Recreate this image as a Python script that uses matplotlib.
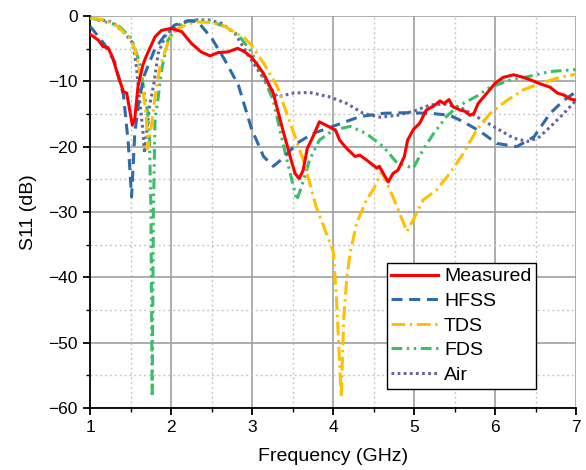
import numpy as np
import matplotlib
matplotlib.use('Agg')
import matplotlib.pyplot as plt
from matplotlib.ticker import MultipleLocator

plt.rcParams['font.family'] = ['Liberation Sans', 'DejaVu Sans']

# Measured
f_meas = [1.0, 1.1, 1.16, 1.22, 1.28, 1.34, 1.41, 1.45, 1.49, 1.52, 1.55, 1.59, 1.65, 1.69,
          1.80, 1.88, 2.0, 2.13, 2.25, 2.37, 2.48, 2.58, 2.70, 2.82, 2.91, 3.0, 3.14, 3.26,
          3.38, 3.48, 3.53, 3.58, 3.63, 3.68, 3.75, 3.83, 3.94, 4.03, 4.08, 4.17, 4.27, 4.33,
          4.44, 4.54, 4.57, 4.62, 4.68, 4.74, 4.80, 4.88, 4.92, 4.99, 5.07, 5.15, 5.24, 5.32,
          5.37, 5.43, 5.48, 5.57, 5.63, 5.69, 5.74, 5.79, 5.90, 6.0, 6.10, 6.23, 6.35, 6.44,
          6.56, 6.68, 6.77, 6.85, 6.93, 7.0]
s_meas = [-2.8, -3.7, -4.7, -4.85, -6.5, -9, -11.6, -11.8, -14.6, -16.7, -15.7, -10.8, -7.5, -6.2,
          -3.2, -2.2, -1.9, -2.4, -4.2, -5.5, -6.1, -5.6, -5.5, -4.95, -5.5, -6.4, -8.8, -11.8,
          -17.5, -22, -24.1, -24.9, -23.6, -20.3, -18.5, -16.2, -16.9, -17.5, -19, -20.3, -21.5, -21.3,
          -22.3, -23.3, -23, -24.1, -25.4, -24.1, -23.6, -21.5, -19, -17.4, -16.4, -14.4, -13.8, -13,
          -13.4, -12.8, -13.9, -14.4, -14.6, -15.2, -14.9, -13.4, -11.8, -10.3, -9.4, -9.0, -9.4, -9.8,
          -10.4, -10.9, -11.8, -12.1, -12.7, -12.9]

# HFSS
f_hfss = [1.0, 1.18, 1.30, 1.41, 1.47, 1.51, 1.55, 1.60, 1.67, 1.80, 1.92, 2.04, 2.21, 2.33,
          2.50, 2.66, 2.83, 2.99, 3.14, 3.26, 3.38, 3.55, 3.75, 4.04, 4.33, 4.62, 4.91, 5.20,
          5.44, 5.61, 5.82, 6.02, 6.27, 6.48, 6.68, 6.85, 7.0]
s_hfss = [-1.6, -4.4, -7, -12.1, -19.5, -27.7, -18, -13, -9, -5, -3, -1.4, -0.7, -0.9,
          -3.4, -6.7, -10.6, -17.2, -21.5, -23, -21.8, -19.5, -18, -16.7, -15.4, -14.9, -14.8, -14.9,
          -15.2, -16.2, -17.7, -19.5, -20, -18.5, -14.9, -12.9, -11.6]

# TDS
f_tds = [1.0, 1.18, 1.34, 1.49, 1.55, 1.59, 1.65, 1.69, 1.71, 1.76, 1.80, 1.86, 1.98, 2.08,
         2.29, 2.50, 2.66, 2.91, 3.0, 3.14, 3.31, 3.47, 3.63, 3.79, 4.0, 4.04, 4.07, 4.10,
         4.13, 4.17, 4.21, 4.29, 4.41, 4.50, 4.60, 4.74, 4.87, 4.91, 4.99, 5.11, 5.28, 5.44,
         5.61, 5.77, 5.94, 6.15, 6.35, 6.56, 6.80, 7.0]
s_tds = [-0.35, -0.6, -1.6, -3.4, -5.2, -7.2, -11.3, -14.9, -20.3, -16.4, -12.4, -7.8, -3.4, -1.9,
         -0.9, -1, -1.6, -3.4, -4.6, -7.2, -10.8, -16.4, -22, -29.2, -36, -43, -50.6, -58.3,
         -46.5, -39.9, -36.3, -31.7, -28.2, -26.5, -23.8, -27.7, -31.7, -33, -31.2, -28.2, -26.6, -24.1,
         -21, -17.5, -14.9, -12.9, -11.3, -10.3, -9.4, -8.9]

# FDS
f_fds = [1.0, 1.34, 1.51, 1.61, 1.65, 1.71, 1.73, 1.75, 1.765, 1.78, 1.80, 1.84, 1.88, 1.96,
         2.03, 2.17, 2.33, 2.50, 2.66, 2.83, 2.99, 3.14, 3.26, 3.38, 3.51, 3.55, 3.61, 3.71,
         3.83, 4.0, 4.21, 4.41, 4.62, 4.79, 4.99, 5.11, 5.24, 5.40, 5.53, 5.77, 5.94, 6.19,
         6.40, 6.68, 7.0]
s_fds = [-0.3, -1.4, -3.4, -7.2, -10.3, -14.9, -18, -30, -58.3, -30, -15.9, -12.4, -8.3, -3.7,
         -2.4, -0.9, -0.6, -0.9, -1.6, -2.9, -5.5, -9.5, -12.9, -19.5, -26.1, -28.2, -26.1, -22,
         -19, -17.5, -16.9, -18, -20, -22.5, -23.3, -20.5, -18, -15.4, -13.9, -12.3, -10.9, -9.8,
         -9.3, -8.5, -8.2]

# Air
f_air = [1.0, 1.27, 1.43, 1.53, 1.57, 1.61, 1.65, 1.67, 1.73, 1.78, 1.84, 1.94, 2.13, 2.29,
         2.46, 2.62, 2.79, 2.95, 3.11, 3.31, 3.51, 3.71, 3.96, 4.17, 4.37, 4.58, 4.79, 4.99,
         5.20, 5.37, 5.57, 5.77, 6.02, 6.23, 6.40, 6.53, 6.68, 6.85, 7.0]
s_air = [-0.3, -0.9, -2.7, -4.2, -7.8, -12.9, -17.5, -21, -13.9, -10.8, -5.7, -2.7, -1.1, -0.6,
         -0.6, -1.1, -2.7, -6, -9, -12.4, -11.8, -11.7, -12.4, -13.4, -14.9, -15.5, -15.2, -14.6,
         -13.6, -13.5, -14, -15.4, -17.2, -18.7, -19.2, -18.7, -17, -14.9, -12.9]

fig = plt.figure(figsize=(5.86, 4.70), dpi=100)
ax = fig.add_axes([0.154, 0.132, 0.829, 0.834])

lw = 2.2
ax.plot(f_meas, s_meas, color='#FF0000', lw=lw, label='Measured', zorder=6)
ax.plot(f_hfss, s_hfss, color='#2E6BA8', lw=lw, dashes=(3.6, 2.2), label='HFSS', zorder=5)
ax.plot(f_tds, s_tds, color='#FFC000', lw=lw, dashes=(4.5, 1.5, 0.8, 1.5), label='TDS', zorder=4)
ax.plot(f_fds, s_fds, color='#3CBD6A', lw=lw, dashes=(3.5, 1.5, 0.8, 1.5, 0.8, 1.5), label='FDS', zorder=3)
ax.plot(f_air, s_air, color='#6464A0', lw=lw, dashes=(0.9, 1.1), label='Air', zorder=2)

ax.set_xlim(1, 7)
ax.set_ylim(-60, 0)
ax.xaxis.set_major_locator(MultipleLocator(1))
ax.xaxis.set_minor_locator(MultipleLocator(0.5))
ax.yaxis.set_major_locator(MultipleLocator(10))
ax.yaxis.set_minor_locator(MultipleLocator(5))

ax.grid(which='major', color='#A0A0A0', lw=1.2, ls='-')
ax.grid(which='minor', color='#C8C8C8', lw=1.0, ls=(0, (1.5, 2)))
ax.set_axisbelow(True)

for side in ['top', 'right']:
    ax.spines[side].set_visible(False)
for side in ['left', 'bottom']:
    ax.spines[side].set_linewidth(1.3)
    ax.spines[side].set_color('black')

ax.tick_params(which='major', direction='out', length=5, width=1.3, labelsize=12.5, pad=4)
ax.tick_params(which='minor', direction='out', length=3, width=1.0)

ax.set_xlabel('Frequency (GHz)', fontsize=14, labelpad=9)
ax.set_ylabel('S11 (dB)', fontsize=14, labelpad=8)

leg = ax.legend(loc='lower right', bbox_to_anchor=(0.918, 0.049), fontsize=14,
                frameon=True, fancybox=False, edgecolor='black', framealpha=1,
                handlelength=2.4, handletextpad=0.3, labelspacing=0.36,
                borderpad=0.25, borderaxespad=0)
leg.get_frame().set_linewidth(1.0)

fig.savefig('out.png', dpi=100)
